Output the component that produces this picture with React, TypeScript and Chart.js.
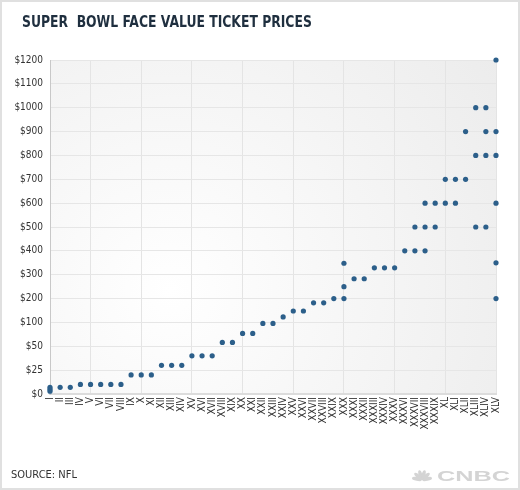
import React, { useEffect, useRef } from "react";
import { Chart, registerables } from "chart.js";

Chart.register(...registerables);

// Super Bowl numbers (x categories)
const bowls = [
  "I", "II", "III", "IV", "V", "VI", "VII", "VIII", "IX", "X",
  "XI", "XII", "XIII", "XIV", "XV", "XVI", "XVII", "XVIII", "XIX", "XX",
  "XXI", "XXII", "XXIII", "XXIV", "XXV", "XXVI", "XXVII", "XXVIII", "XXIX", "XXX",
  "XXXI", "XXXII", "XXXIII", "XXXIV", "XXXV", "XXXVI", "XXXVII", "XXXVIII", "XXXIX", "XL",
  "XLI", "XLII", "XLIII", "XLIV", "XLV",
];

// Face value ticket prices (USD) per Super Bowl
const prices: number[][] = [
  [3, 5, 7], [7], [7], [10], [10], [10], [10], [10], [20], [20],
  [20], [30], [30], [30], [40], [40], [40], [58], [58], [77],
  [77], [98], [98], [123], [148], [148], [182], [182], [200], [200, 250, 348],
  [283], [283], [329], [329], [329], [400], [400, 500], [400, 500, 600], [500, 600], [600, 700],
  [600, 700], [700, 900], [500, 800, 1000], [500, 800, 900, 1000], [200, 350, 600, 800, 900, 1200],
];

// Y axis tick values (evenly spaced on the axis)
const yTickValues = [0, 25, 50, 100, 200, 300, 400, 500, 600, 700, 800, 900, 1000, 1100, 1200];

const NARROW = "'Liberation Sans Narrow', 'DejaVu Sans Condensed', 'Roboto Condensed', Roboto, sans-serif";

function priceToAxis(p: number): number {
  for (let i = 0; i < yTickValues.length - 1; i++) {
    const a = yTickValues[i];
    const b = yTickValues[i + 1];
    if (p >= a && p <= b) return i + (p - a) / (b - a);
  }
  return yTickValues.length - 1;
}

const bgPlugin = {
  id: "plotBg",
  beforeDraw(chart: any) {
    const { ctx, chartArea } = chart;
    if (!chartArea) return;
    const { left, top, right, bottom } = chartArea;
    ctx.save();
    const g = ctx.createRadialGradient(170, 290, 0, 170, 290, 400);
    g.addColorStop(0, "#ffffff");
    g.addColorStop(1, "#ececec");
    ctx.fillStyle = g;
    ctx.fillRect(left, top, right - left, bottom - top);
    ctx.restore();
  },
};

export default function App() {
  const canvasRef = useRef<HTMLCanvasElement | null>(null);

  useEffect(() => {
    if (!canvasRef.current) return;
    const points: { x: number; y: number }[] = [];
    bowls.forEach((_, i) => {
      prices[i].forEach((p) => points.push({ x: i + 1, y: priceToAxis(p) }));
    });

    const chart = new Chart(canvasRef.current, {
      type: "scatter",
      data: {
        datasets: [
          {
            data: points,
            backgroundColor: "#2c5f8a",
            borderWidth: 0,
            pointRadius: 2.6,
            pointHoverRadius: 2.6,
            clip: false as any,
          },
        ],
      },
      options: {
        responsive: false,
        animation: false,
        events: [],
        layout: { padding: { top: 60, right: 24, bottom: 46, left: 0 } },
        plugins: {
          legend: { display: false },
          tooltip: { enabled: false },
          title: { display: false },
        },
        scales: {
          x: {
            type: "linear",
            min: 1,
            max: 45,
            afterFit: (scale: any) => {
              scale.height = 50;
            },
            afterBuildTicks: (scale: any) => {
              scale.ticks = bowls.map((_, i) => ({ value: i + 1 }));
            },
            ticks: {
              autoSkip: false,
              maxRotation: 90,
              minRotation: 90,
              padding: 3,
              color: "#333333",
              font: { family: NARROW, size: 10 },
              callback: (v: any) => bowls[Math.round(Number(v)) - 1] ?? "",
            },
            grid: {
              drawTicks: false,
              color: (ctx: any) =>
                ctx.tick && Math.round(ctx.tick.value) % 5 === 0 ? "#e4e4e4" : "rgba(0,0,0,0)",
              lineWidth: 1,
            },
            border: { display: true, color: "#dcdcdc", width: 2 },
          },
          y: {
            type: "linear",
            min: 0,
            max: yTickValues.length - 1,
            afterFit: (scale: any) => {
              scale.width = 50;
            },
            afterBuildTicks: (scale: any) => {
              scale.ticks = yTickValues.map((_, i) => ({ value: i }));
            },
            ticks: {
              padding: 7,
              color: "#333333",
              font: { family: NARROW, size: 10 },
              callback: (v: any) => "$" + yTickValues[Math.round(Number(v))],
            },
            grid: { drawTicks: false, color: "#e6e6e6", lineWidth: 1 },
            border: { display: true, color: "#c8c8c8", width: 1 },
          },
        },
      },
      plugins: [bgPlugin],
    } as any);

    return () => chart.destroy();
  }, []);

  const feathers = [-78, -47, -16, 16, 47, 78];

  return (
    <div
      style={{
        position: "absolute",
        left: 0,
        top: 0,
        width: 520,
        height: 490,
        boxSizing: "border-box",
        border: "2px solid #e0e0e0",
        background: "#ffffff",
        overflow: "hidden",
      }}
    >
      <canvas
        ref={canvasRef}
        width={520}
        height={490}
        style={{ position: "absolute", left: -2, top: -2, display: "block" }}
      />
      <div
        style={{
          position: "absolute",
          left: 20,
          top: 11,
          fontFamily: NARROW,
          fontWeight: 700,
          fontSize: 16,
          lineHeight: "18px",
          color: "#1f2f3f",
          whiteSpace: "pre",
          transform: "scaleX(0.86)",
          transformOrigin: "left center",
        }}
      >
        {"SUPER  BOWL FACE VALUE TICKET PRICES"}
      </div>
      <div
        style={{
          position: "absolute",
          left: 9,
          top: 466,
          fontFamily: NARROW,
          fontSize: 11,
          lineHeight: "13px",
          color: "#333333",
        }}
      >
        SOURCE: NFL
      </div>
      <svg
        width={102}
        height={20}
        style={{ position: "absolute", left: 408, top: 460 }}
      >
        {feathers.map((a, i) => {
          const r = 5.2;
          const bx = 12;
          const by = 18;
          const rad = (a * Math.PI) / 180;
          const cx = bx + r * Math.sin(rad);
          const cy = by - r * Math.cos(rad);
          return (
            <ellipse
              key={i}
              cx={cx}
              cy={cy}
              rx={1.9}
              ry={5}
              fill="#d4d4d4"
              transform={`rotate(${a} ${cx} ${cy})`}
            />
          );
        })}
        <text
          x={27}
          y={19}
          fontFamily="'Liberation Sans', 'DejaVu Sans', Arial, sans-serif"
          fontWeight={900}
          fontSize={15}
          fill="#d4d4d4"
          textLength={73}
          lengthAdjust="spacingAndGlyphs"
        >
          CNBC
        </text>
      </svg>
    </div>
  );
}
